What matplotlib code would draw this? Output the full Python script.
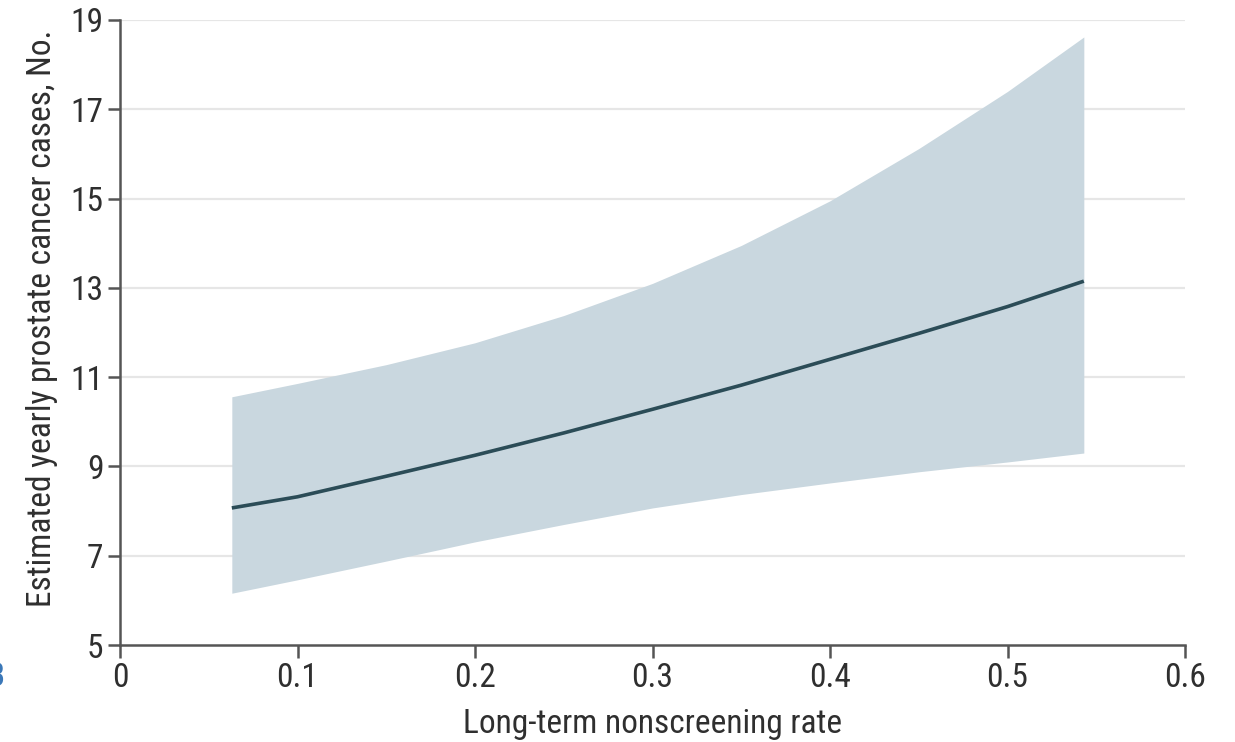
import matplotlib
matplotlib.use("Agg")
import matplotlib.pyplot as plt
from matplotlib import font_manager

# Long-term nonscreening rate and estimated yearly prostate cancer cases
rate = [0.063, 0.10, 0.15, 0.20, 0.25, 0.30, 0.35, 0.40, 0.45, 0.50, 0.543]
cases = [8.07, 8.32, 8.78, 9.25, 9.75, 10.28, 10.82, 11.40, 11.98, 12.58, 13.15]
upper = [10.56, 10.86, 11.28, 11.77, 12.38, 13.10, 13.95, 14.95, 16.12, 17.40, 18.62]
lower = [6.16, 6.46, 6.88, 7.31, 7.70, 8.07, 8.37, 8.63, 8.88, 9.10, 9.30]

x_ticks = [0, 0.1, 0.2, 0.3, 0.4, 0.5, 0.6]
x_tick_labels = ["0", "0.1", "0.2", "0.3", "0.4", "0.5", "0.6"]
y_ticks = [5, 7, 9, 11, 13, 15, 17, 19]

available = {f.name for f in font_manager.fontManager.ttflist}
candidates = [("Roboto Condensed", 24), ("Liberation Sans Narrow", 24),
              ("Open Sans Condensed", 23), ("Liberation Sans", 20.5)]
family, size = "DejaVu Sans", 19
for name, sz in candidates:
    if name in available:
        family, size = name, sz
        break
plt.rcParams["font.family"] = [family, "DejaVu Sans"]

text_color = "#2f2f2f"
axis_color = "#555555"

fig = plt.figure(figsize=(12.35, 7.42), dpi=100)
ax = fig.add_axes([120 / 1235, 97 / 742, 1065 / 1235, 625 / 742])

ax.fill_between(rate, lower, upper, color="#c9d7df", linewidth=0, zorder=2)
ax.plot(rate, cases, color="#2b4c57", linewidth=2.6, solid_capstyle="butt", zorder=3)

ax.set_xlim(0, 0.6)
ax.set_ylim(5, 19)
ax.set_xticks(x_ticks)
ax.set_xticklabels(x_tick_labels)
ax.set_yticks(y_ticks)

for y in y_ticks[1:]:
    ax.axhline(y, color="#e6e6e6", linewidth=1.6, zorder=1)

for side in ("top", "right"):
    ax.spines[side].set_visible(False)
for side in ("left", "bottom"):
    ax.spines[side].set_color(axis_color)
    ax.spines[side].set_linewidth(1.8)

ax.tick_params(axis="both", direction="out", length=9, width=1.8,
               color=axis_color, labelsize=size, labelcolor=text_color, pad=3)

ax.set_xlabel("Long-term nonscreening rate", fontsize=size, color=text_color, labelpad=10)
ax.set_ylabel("Estimated yearly prostate cancer cases, No.", fontsize=size,
              color=text_color, labelpad=9)
ax.yaxis.label.set_y(0.523)

fig.text(-0.012, 0.075, "B", color="#3b78b8", fontsize=24, fontweight="bold")

fig.savefig("out.png", dpi=100)
